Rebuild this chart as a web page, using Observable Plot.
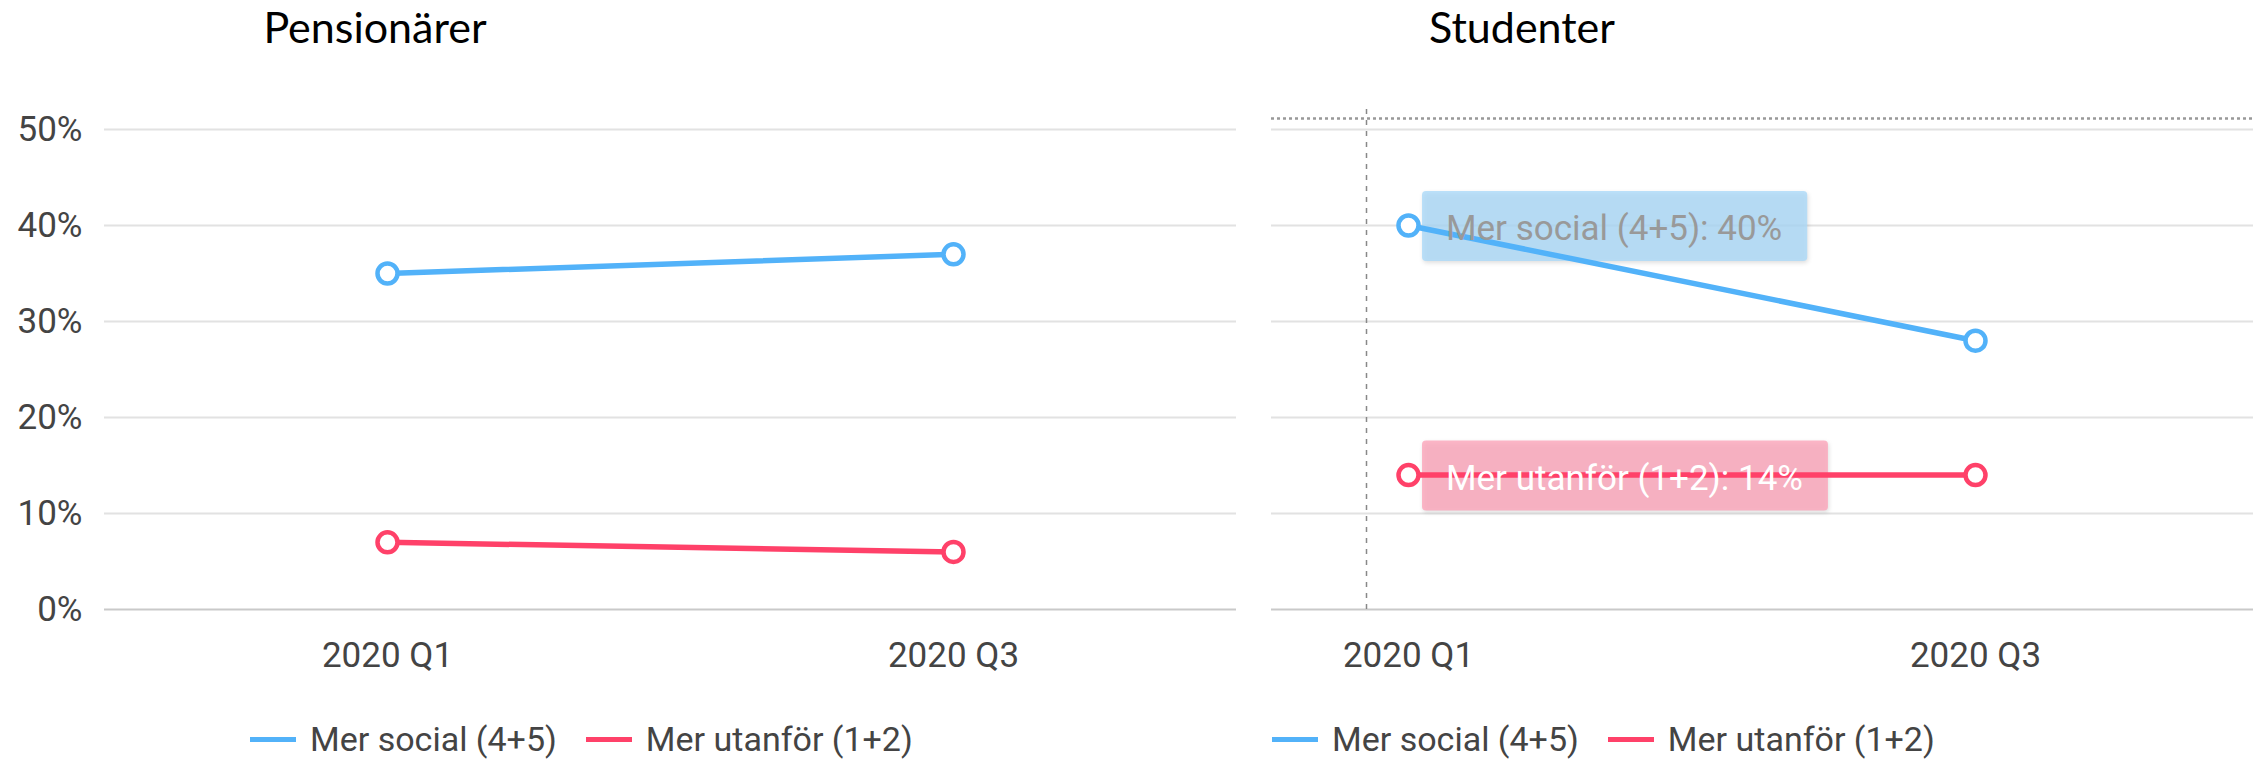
<!DOCTYPE html>
<html><head><meta charset="utf-8">
<script src="https://cdn.jsdelivr.net/npm/d3@7"></script>
<script src="https://cdn.jsdelivr.net/npm/@observablehq/plot@0.6"></script>
<style>
html,body{margin:0;padding:0;background:#fff;}
#root{position:relative;width:2267px;height:761px;overflow:hidden;font-family:Roboto,sans-serif;background:#fff;}
.title{position:absolute;top:5px;font-family:Lato,sans-serif;font-size:43px;line-height:1;color:#000;transform:translateX(-50%);white-space:nowrap;}
.legend{position:absolute;top:724px;display:flex;align-items:center;font-family:Roboto,sans-serif;font-size:34px;line-height:30px;color:#444;white-space:nowrap;}
.sw{width:46px;height:5px;margin-right:14px;}
.item{display:flex;align-items:center;margin-right:29px;}
.panel{position:absolute;top:0;}
.panel svg{max-width:none;}
</style></head><body><div id="root"></div>
<script>
// ---- data ----
const quarters = ["2020 Q1", "2020 Q3"];
const seriesNames = ["Mer social (4+5)", "Mer utanför (1+2)"];
const seriesColors = ["#52b2f9", "#ff4169"];
const boxColors = ["#a9d8f9", "#fda3b8"];
const boxTextColors = ["#999999", "#ffffff"];
const panelTitles = ["Pensionärer", "Studenter"];
const pensionarerSocial = [0.35, 0.37];
const pensionarerUtanfor = [0.07, 0.06];
const studenterSocial = [0.40, 0.28];
const studenterUtanfor = [0.14, 0.14];
const yTicks = [0, 0.1, 0.2, 0.3, 0.4, 0.5];
const hoverQuarter = "2020 Q1";
const hoverY = 0.5115;
const hoverYTop = 0.522;

function rows(social, utanfor) {
  const out = [];
  [social, utanfor].forEach((vals, si) => {
    vals.forEach((v, qi) => out.push({q: quarters[qi], series: seriesNames[si], value: v}));
  });
  return out;
}
const pensData = rows(pensionarerSocial, pensionarerUtanfor);
const studData = rows(studenterSocial, studenterUtanfor);

const pct = d3.format(".0%");
const ctx = document.createElement("canvas").getContext("2d");
ctx.font = "35px Roboto";
const measure = (s) => ctx.measureText(s).width;

const root = document.getElementById("root");

function baseMarks() {
  return [
    Plot.ruleY(yTicks.filter(d => d > 0), {stroke: "#e2e2e2", strokeWidth: 2}),
    Plot.ruleY([0], {stroke: "#c9c9c9", strokeWidth: 2}),
    Plot.axisX({tickSize: 0, tickPadding: 33, fontSize: 35, fill: "#444", label: null})
  ];
}
function seriesMarks(data) {
  return [
    Plot.line(data, {x: "q", y: "value", z: "series", stroke: "series", strokeWidth: 5.5}),
    Plot.dot(data, {x: "q", y: "value", stroke: "series", fill: "white", r: 10, strokeWidth: 4.5})
  ];
}
const common = {
  height: 690, marginTop: 129, marginBottom: 81,
  style: {fontFamily: "Roboto, sans-serif", fontSize: "35px", color: "#444", background: "transparent", overflow: "visible"},
  color: {domain: seriesNames, range: seriesColors}
};

// Left panel
const left = Plot.plot({
  ...common,
  width: 1240, marginLeft: 104, marginRight: 4,
  x: {type: "point", domain: quarters, padding: 0.5, label: null},
  y: {domain: [0, 0.5], label: null},
  marks: [
    ...baseMarks(),
    Plot.axisY(yTicks, {tickSize: 0, tickPadding: 22, tickFormat: pct, fontSize: 35, fill: "#444", label: null}),
    ...seriesMarks(pensData)
  ]
});

// tooltip pieces for right panel (hover at first quarter)
const hoverItems = studData.filter(d => d.q === hoverQuarter).map(d => {
  const si = seriesNames.indexOf(d.series);
  return {...d, label: `${d.series}: ${pct(d.value)}`, box: boxColors[si], text: boxTextColors[si]};
});
function tipBoxes(index, scales) {
  const g = d3.create("svg:g");
  for (const it of hoverItems) {
    const cx = scales.x(it.q), cy = scales.y(it.value);
    g.append("rect")
      .attr("x", cx + 14).attr("y", cy - 34)
      .attr("width", measure(it.label) + 49).attr("height", 70)
      .attr("rx", 4).attr("fill", it.box).attr("fill-opacity", 0.78)
      .style("filter", "drop-shadow(1px 2px 2px rgba(0,0,0,0.16))");
  }
  return g.node();
}
function tipTexts(index, scales) {
  const g = d3.create("svg:g");
  for (const it of hoverItems) {
    const cx = scales.x(it.q), cy = scales.y(it.value);
    g.append("text")
      .attr("x", cx + 38).attr("y", cy + 15)
      .attr("text-anchor", "start").attr("font-size", 35)
      .attr("fill", it.text).text(it.label);
  }
  return g.node();
}

const right = Plot.plot({
  ...common,
  width: 996, marginLeft: 0, marginRight: 14,
  x: {type: "point", domain: quarters, range: [137, 704], padding: 0, label: null},
  y: {domain: [0, 0.5], label: null, axis: null},
  marks: [
    ...baseMarks(),
    Plot.ruleY([hoverY], {stroke: "#999", strokeWidth: 2.5, strokeDasharray: "3,3"}),
    Plot.ruleX([{q: hoverQuarter, y1: 0, y2: hoverYTop}], {x: "q", y1: "y1", y2: "y2", dx: -42, stroke: "#888", strokeWidth: 1.5, strokeDasharray: "5,6"}),
    tipBoxes,
    ...seriesMarks(studData),
    tipTexts
  ]
});

function panel(svg, leftPx, width) {
  const d = document.createElement("div");
  d.className = "panel";
  d.style.left = leftPx + "px";
  d.style.width = width + "px";
  d.appendChild(svg);
  root.appendChild(d);
}
panel(left, 0, 1240);
panel(right, 1271, 996);

function title(text, cx) {
  const t = document.createElement("div");
  t.className = "title";
  t.style.left = cx + "px";
  t.textContent = text;
  root.appendChild(t);
}
title(panelTitles[0], 375);
title(panelTitles[1], 1522);

function legend(leftPx) {
  const l = document.createElement("div");
  l.className = "legend";
  l.style.left = leftPx + "px";
  seriesNames.forEach((n, i) => {
    const it = document.createElement("div");
    it.className = "item";
    const sw = document.createElement("div");
    sw.className = "sw";
    sw.style.background = seriesColors[i];
    const tx = document.createElement("span");
    tx.textContent = n;
    it.appendChild(sw); it.appendChild(tx);
    l.appendChild(it);
  });
  root.appendChild(l);
}
legend(250);
legend(1272);
</script>
</body></html>
